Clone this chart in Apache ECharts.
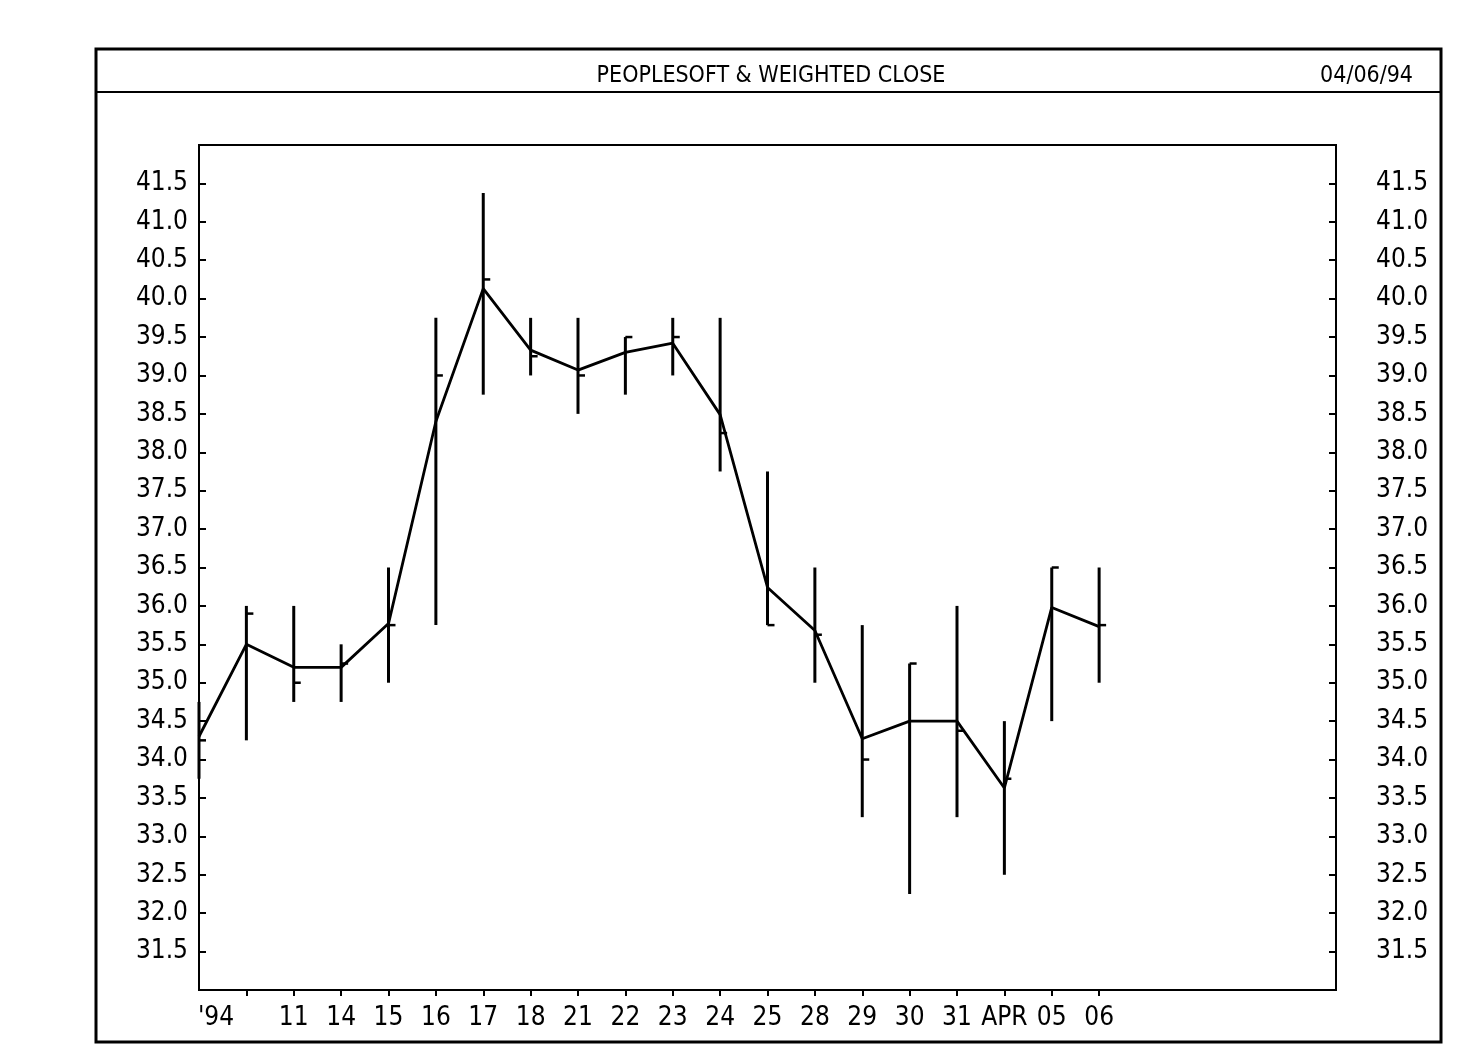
<!DOCTYPE html>
<html>
<head>
<meta charset="utf-8">
<script src="https://cdn.jsdelivr.net/npm/echarts@6/dist/echarts.min.js"></script>
<style>
html,body{margin:0;padding:0;background:#fff;}
#c{width:1480px;height:1061px;}
</style>
</head>
<body>
<div id="c"></div>
<script>
// ---- data ----
const tickLabels = ["'94", "", "11", "14", "15", "16", "17", "18", "21", "22", "23", "24", "25", "28", "29", "30", "31", "APR", "05", "06", "", "", "", "", ""];
const highs  = [34.75, 36.0, 36.0, 35.5, 36.5, 39.75, 41.375, 39.75, 39.75, 39.5, 39.75, 39.75, 37.75, 36.5, 35.75, 35.25, 36.0, 34.5, 36.5, 36.5];
const lows   = [33.75, 34.25, 34.75, 34.75, 35.0, 35.75, 38.75, 39.0, 38.5, 38.75, 39.0, 37.75, 35.75, 35.0, 33.25, 32.25, 33.25, 32.5, 34.5, 35.0];
const closes = [34.25, 35.9, 35.0, 35.25, 35.75, 39.0, 40.25, 39.25, 39.0, 39.5, 39.5, 38.25, 35.75, 35.625, 34.0, 35.25, 34.375, 33.75, 36.5, 35.75];
const weighted = [34.3, 35.5, 35.2, 35.2, 35.77, 38.4, 40.13, 39.33, 39.07, 39.3, 39.42, 38.49, 36.24, 35.68, 34.27, 34.5, 34.5, 33.63, 35.98, 35.73];
const yTickLabels = ["31.5","32.0","32.5","33.0","33.5","34.0","34.5","35.0","35.5","36.0","36.5","37.0","37.5","38.0","38.5","39.0","39.5","40.0","40.5","41.0","41.5"];

const FONT = '"Liberation Sans Narrow", "DejaVu Sans Condensed", sans-serif';

const hlcData = highs.map((h, i) => [i, h, lows[i], closes[i]]);

const chart = echarts.init(document.getElementById('c'), null, {renderer: 'canvas'});

function yFmt(v) {
  const s = (Math.round(v * 10) / 10).toFixed(1);
  return yTickLabels.indexOf(s) >= 0 ? s : '';
}

const yAxisBase = {
  type: 'value', min: 31, max: 42, interval: 0.5,
  axisLine: {show: true, lineStyle: {color: '#000', width: 2}},
  axisTick: {show: true, inside: true, length: 7, lineStyle: {color: '#000', width: 2}},
  splitLine: {show: false},
  axisLabel: {color: '#000', fontFamily: FONT, fontSize: 26, formatter: yFmt}
};

chart.setOption({
  animation: false,
  backgroundColor: '#fff',
  title: [
    {text: 'PEOPLESOFT & WEIGHTED CLOSE', left: 766, textAlign: 'center', top: 60,
     textStyle: {color: '#000', fontFamily: FONT, fontSize: 23, fontWeight: 'normal'}},
    {text: '04/06/94', right: 62, top: 60,
     textStyle: {color: '#000', fontFamily: FONT, fontSize: 23, fontWeight: 'normal'}}
  ],
  graphic: [
    {type: 'rect', shape: {x: 96, y: 49, width: 1345, height: 993},
     style: {fill: null, stroke: '#000', lineWidth: 3}, silent: true},
    {type: 'line', shape: {x1: 96, y1: 92, x2: 1441, y2: 92},
     style: {stroke: '#000', lineWidth: 2}, silent: true}
  ],
  grid: {left: 199, right: 144, top: 145, bottom: 71, show: true, borderColor: '#000', borderWidth: 2, backgroundColor: 'transparent'},
  xAxis: {
    type: 'category', data: tickLabels, boundaryGap: false,
    axisLine: {show: true, lineStyle: {color: '#000', width: 2}},
    axisTick: {show: true, inside: false, length: 6, lineStyle: {color: '#000', width: 2},
      interval: function (idx) { return idx >= 1 && idx <= 19; }},
    axisLabel: {color: '#000', fontFamily: FONT, fontSize: 26, margin: 15,
      interval: 0,
      formatter: function (v, idx) { return idx === 0 ? '{a|' + v + '}' : v; },
      rich: {a: {fontFamily: FONT, fontSize: 26, color: '#000', padding: [0, 0, 0, 34]}}
    },
    splitLine: {show: false}
  },
  yAxis: [
    Object.assign({}, yAxisBase, {position: 'left', axisLabel: Object.assign({}, yAxisBase.axisLabel, {margin: 11})}),
    Object.assign({}, yAxisBase, {position: 'right', axisLabel: Object.assign({}, yAxisBase.axisLabel, {margin: 40})})
  ],
  series: [
    {
      type: 'custom',
      data: hlcData,
      encode: {x: 0, y: [1, 2, 3]},
      renderItem: function (params, api) {
        const x = api.value(0);
        const hi = api.coord([x, api.value(1)]);
        const lo = api.coord([x, api.value(2)]);
        const cl = api.coord([x, api.value(3)]);
        return {
          type: 'group',
          children: [
            {type: 'line', shape: {x1: hi[0], y1: hi[1], x2: lo[0], y2: lo[1]},
             style: {stroke: '#000', lineWidth: 3}},
            {type: 'line', shape: {x1: cl[0], y1: cl[1], x2: cl[0] + 7, y2: cl[1]},
             style: {stroke: '#000', lineWidth: 2.5}}
          ]
        };
      },
      z: 3
    },
    {
      type: 'line', data: weighted, showSymbol: false, symbol: 'none',
      lineStyle: {color: '#000', width: 2.8}, z: 4
    }
  ]
});
</script>
</body>
</html>
